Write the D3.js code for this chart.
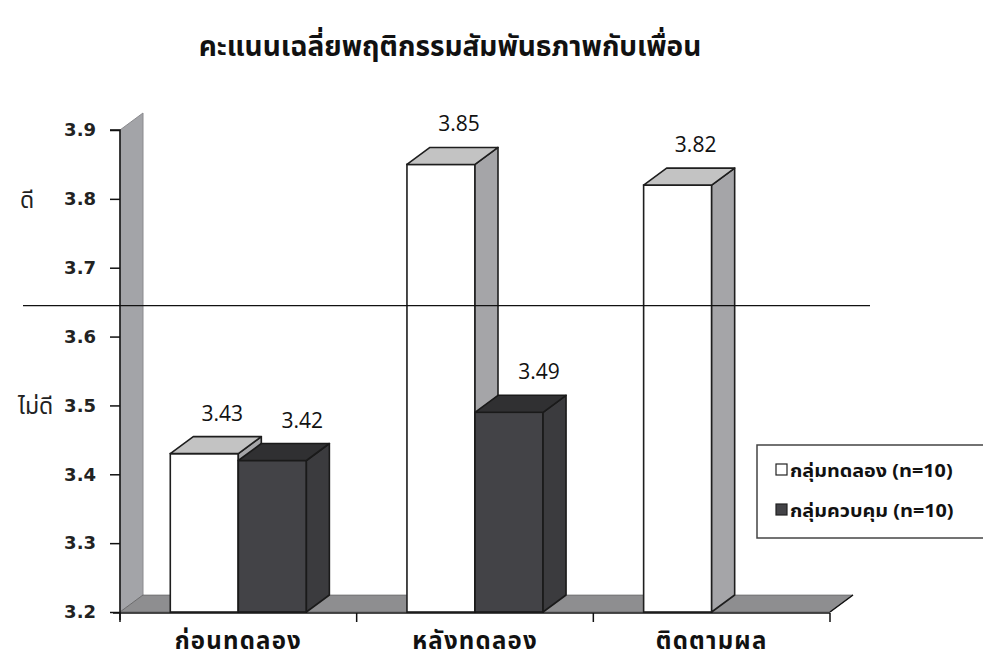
<!DOCTYPE html>
<html>
<head>
<meta charset="utf-8">
<script src="https://cdn.jsdelivr.net/npm/d3@7"></script>
<style>
  html, body { margin: 0; padding: 0; background: #fff; overflow: hidden; }
  svg { display: block; }
</style>
</head>
<body>
<svg id="chart" width="983" height="664"></svg>
<script>
// ---- data ----
const title = "คะแนนเฉลี่ยพฤติกรรมสัมพันธภาพกับเพื่อน";
const categories = ["ก่อนทดลอง", "หลังทดลอง", "ติดตามผล"];
const seriesNames = ["กลุ่มทดลอง (n=10)", "กลุ่มควบคุม (n=10)"];
const experimentValues = [3.43, 3.85, 3.82];
const controlValues = [3.42, 3.49, null];
const yTicks = [3.2, 3.3, 3.4, 3.5, 3.6, 3.7, 3.8, 3.9];
const yDomain = [3.2, 3.9];
const threshold = 3.645;
const zoneLabels = [{text: "ดี", value: 3.8}, {text: "ไม่ดี", value: 3.5}];

(function () {
// ---- layout ----
const svg = d3.select("#chart");
const thai = "'Noto Sans Thai', 'Noto Sans Thai UI', 'Loma', 'Garuda', 'Tlwg Typo', 'Noto Sans', 'DejaVu Sans', sans-serif";
const pLeft = 120, pRight = 830, pTop = 130, pBottom = 612;
const depthX = 23, depthY = -17;

const x0 = d3.scaleBand().domain(categories).range([pLeft, pRight]).paddingInner(0).paddingOuter(0);
const groupFrac = 0.575;
const x1 = d3.scaleBand().domain([0, 1]).range([0, x0.bandwidth() * groupFrac]);
const groupOffset = x0.bandwidth() * (1 - groupFrac) / 2;
const y = d3.scaleLinear().domain(yDomain).range([pBottom, pTop]);

const styles = [
  {front: "#ffffff", top: "#c3c3c3", side: "#a5a5a8", stroke: "#1e1e1e", labelDx: 18},
  {front: "#434347", top: "#303032", side: "#3b3b3e", stroke: "#1a1a1a", labelDx: 30}
];

// title
svg.append("text")
  .attr("x", 450).attr("y", 56)
  .attr("text-anchor", "middle")
  .attr("font-family", thai)
  .attr("font-weight", "bold")
  .attr("font-size", 28)
  .attr("fill", "#111")
  .text(title);

// left wall (depth strip)
const yTop = y(yDomain[1]);
svg.append("path")
  .attr("d", `M${pLeft},${pBottom} L${pLeft},${yTop} L${pLeft + depthX},${yTop + depthY} L${pLeft + depthX},${pBottom + depthY} Z`)
  .attr("fill", "#a3a4a8").attr("stroke", "#8a8a8e").attr("stroke-width", 1);

// floor
svg.append("path")
  .attr("d", `M${pLeft},${pBottom} L${pRight},${pBottom} L${pRight + depthX},${pBottom + depthY} L${pLeft + depthX},${pBottom + depthY} Z`)
  .attr("fill", "#8e8e90").attr("stroke", "#555").attr("stroke-width", 0.6);
svg.append("line")
  .attr("x1", pRight).attr("y1", pBottom).attr("x2", pRight + depthX).attr("y2", pBottom + depthY)
  .attr("stroke", "#111").attr("stroke-width", 1.5);

// bars
const rows = [];
categories.forEach((c, i) => {
  [experimentValues[i], controlValues[i]].forEach((v, s) => {
    if (v !== null && v !== undefined) rows.push({cat: c, s, v});
  });
});

const barG = svg.append("g");
rows.forEach(d => {
  const st = styles[d.s];
  const xa = x0(d.cat) + groupOffset + x1(d.s);
  const xb = xa + x1.bandwidth();
  const yt = y(d.v);
  const g = barG.append("g");
  g.append("rect").attr("x", xa).attr("y", yt).attr("width", xb - xa).attr("height", pBottom - yt)
    .attr("fill", st.front).attr("stroke", st.stroke).attr("stroke-width", 1.6);
  g.append("path")
    .attr("d", `M${xb},${yt} L${xb + depthX},${yt + depthY} L${xb + depthX},${pBottom + depthY} L${xb},${pBottom} Z`)
    .attr("fill", st.side).attr("stroke", st.stroke).attr("stroke-width", 1.6).attr("stroke-linejoin", "round");
  g.append("path")
    .attr("d", `M${xa},${yt} L${xb},${yt} L${xb + depthX},${yt + depthY} L${xa + depthX},${yt + depthY} Z`)
    .attr("fill", st.top).attr("stroke", st.stroke).attr("stroke-width", 1.6).attr("stroke-linejoin", "round");
  svg.append("text")
    .attr("x", (xa + xb) / 2 + st.labelDx)
    .attr("y", yt - 33)
    .attr("text-anchor", "middle")
    .attr("font-family", "'Open Sans', 'Noto Sans', sans-serif")
    .attr("font-size", 21)
    .attr("fill", "#111")
    .text(d.v.toFixed(2));
});

// threshold line
svg.append("line")
  .attr("x1", 23).attr("x2", 870)
  .attr("y1", y(threshold)).attr("y2", y(threshold))
  .attr("stroke", "#111").attr("stroke-width", 1.3);

// y axis
const yAxis = d3.axisLeft(y).tickValues(yTicks).tickFormat(d3.format(".1f")).tickSize(10).tickPadding(14);
const yg = svg.append("g").attr("transform", `translate(${pLeft},0)`).call(yAxis);
yg.select(".domain").attr("stroke", "#111").attr("stroke-width", 1.5).attr("d", `M-10,${pTop}H0V${pBottom + 8}`);
yg.selectAll(".tick line").attr("stroke", "#111").attr("stroke-width", 1.5);
yg.selectAll(".tick text")
  .attr("font-family", "'DejaVu Sans', sans-serif")
  .attr("font-weight", "bold")
  .attr("font-size", 18)
  .attr("fill", "#222");

// x axis
const xAxis = d3.axisBottom(x0).tickSize(0).tickFormat("");
const xg = svg.append("g").attr("transform", `translate(0,${pBottom + 1})`).call(xAxis);
xg.select(".domain").attr("stroke", "#111").attr("stroke-width", 1.5).attr("d", `M${pLeft - 7},0H${pRight}`);
const xEdges = categories.map(c => x0(c)).concat([pRight]);
xg.selectAll(".edge").data(xEdges).enter().append("line")
  .attr("x1", d => d).attr("x2", d => d).attr("y1", 0).attr("y2", 9)
  .attr("stroke", "#111").attr("stroke-width", 1.5);
svg.selectAll(".xlab").data(categories).enter().append("text")
  .attr("x", d => x0(d) + x0.bandwidth() / 2)
  .attr("y", 649)
  .attr("text-anchor", "middle")
  .attr("font-family", thai)
  .attr("font-weight", "bold")
  .attr("font-size", 24)
  .attr("letter-spacing", 1.2)
  .attr("fill", "#111")
  .text(d => d);

// zone labels
zoneLabels.forEach(z => {
  svg.append("text")
    .attr("x", z.text.length > 2 ? 18 : 20)
    .attr("y", y(z.value) + 9)
    .attr("font-family", thai)
    .attr("font-size", 23)
    .attr("fill", "#222")
    .text(z.text);
});

// legend
const lg = svg.append("g");
lg.append("rect").attr("x", 757).attr("y", 445).attr("width", 240).attr("height", 93)
  .attr("fill", "#fff").attr("stroke", "#444").attr("stroke-width", 1.5);
seriesNames.forEach((n, i) => {
  const cy = 470 + i * 40;
  lg.append("rect").attr("x", 776).attr("y", cy - 6).attr("width", 11).attr("height", 11)
    .attr("fill", styles[i].front).attr("stroke", "#222").attr("stroke-width", 1.2);
  lg.append("text").attr("transform", `translate(790,${cy + 7}) scale(1.1,1)`)
    .attr("font-family", thai)
    .attr("font-weight", "bold")
    .attr("font-size", 18)
    .attr("fill", "#111")
    .text(n);
});
})();
</script>
</body>
</html>
